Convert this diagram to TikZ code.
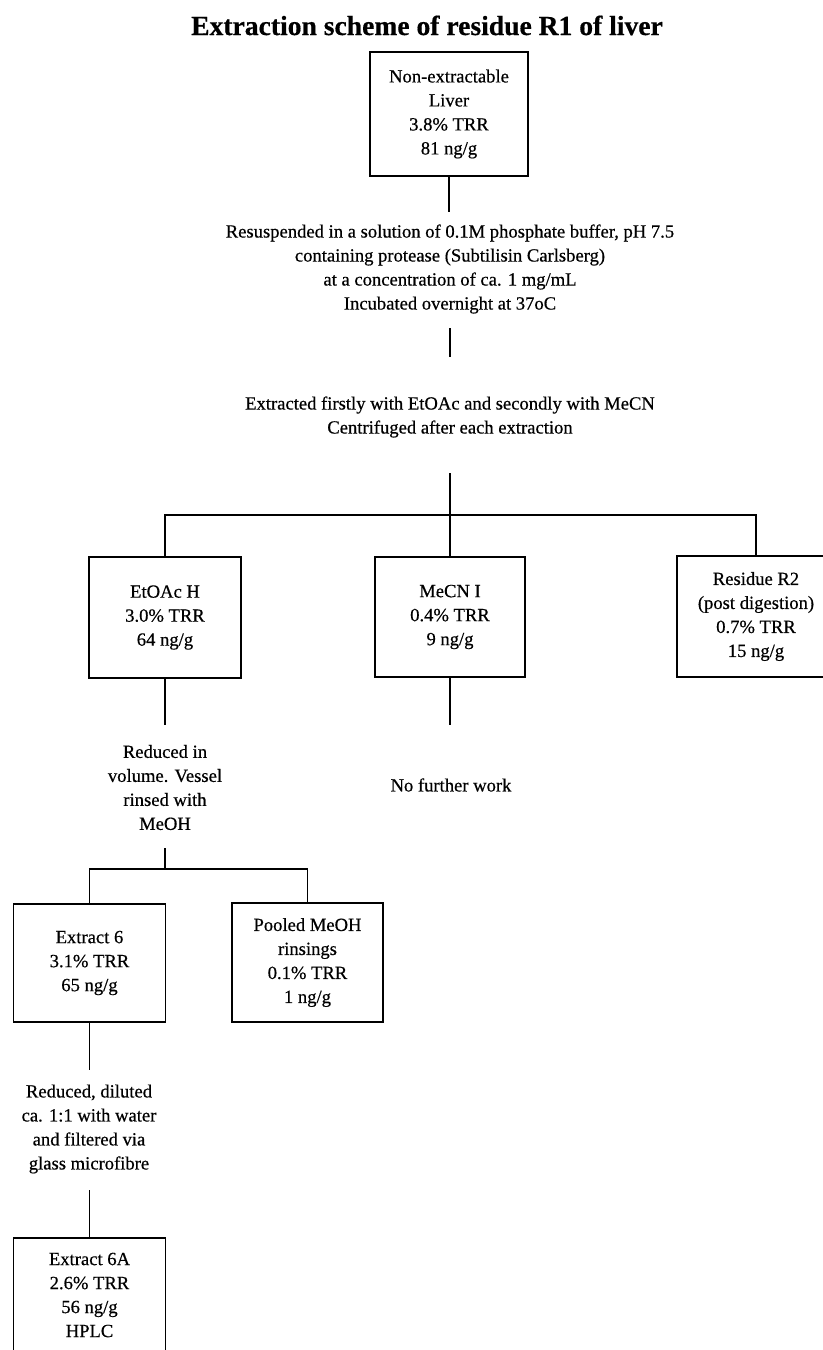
\documentclass[tikz,border=0pt]{standalone}
\usepackage{fontspec}
\setmainfont{Liberation Serif}[FakeBold=0.5]
\begin{document}
\begin{tikzpicture}[x=0.5pt,y=-0.5pt,
  every node/.style={font=\fontsize{9.3}{12}\selectfont, align=center, inner sep=0pt},
  box/.style={draw, line width=0.9pt},
  link/.style={line width=0.9pt},
  note/.style={},
  heading/.style={font=\bfseries\fontsize{13.8}{16}\selectfont}]
\useasboundingbox (0,0) rectangle (823,1350);
\clip (0,0) rectangle (823,1350);

% title
\node[heading, anchor=base] (title) at (427,35) {Extraction scheme of residue R1 of liver};

% boxes
\node[box, minimum width=79pt, minimum height=62pt] (liver) at (449,114)
  {Non-extractable\\Liver\\3.8\% TRR\\81 ng/g};
\node[box, minimum width=76pt, minimum height=60.5pt] (etoac) at (165,617.5)
  {EtOAc H\\3.0\% TRR\\64 ng/g};
\node[box, minimum width=75pt, minimum height=60pt] (mecn) at (450,617)
  {MeCN I\\0.4\% TRR\\9 ng/g};
\node[box, minimum width=79pt, minimum height=60.5pt] (resid) at (756,616.5)
  {Residue R2\\(post digestion)\\0.7\% TRR\\15 ng/g};
\node[box, minimum width=76pt, minimum height=59pt] (ext6) at (89.5,963)
  {Extract 6\\3.1\% TRR\\65 ng/g};
\node[box, minimum width=75.5pt, minimum height=59.5pt] (pooled) at (307.5,962.5)
  {Pooled MeOH\\rinsings\\0.1\% TRR\\1 ng/g};
\node[box, minimum width=76pt, minimum height=57pt] (ext6a) at (89.5,1295)
  {Extract 6A\\2.6\% TRR\\56 ng/g\\HPLC};

% process notes
\node[note] (resus) at (450,269)
  {Resuspended in a solution of 0.1M phosphate buffer, pH 7.5\\
   containing protease (Subtilisin Carlsberg)\\
   at a concentration of ca. 1 mg/mL\\
   Incubated overnight at 37oC};
\node[note] (extr) at (450,417)
  {Extracted firstly with EtOAc and secondly with MeCN\\
   Centrifuged after each extraction};
\node[note] (red1) at (165,787.5)
  {Reduced in\\volume. Vessel\\rinsed with\\MeOH};
\node[note] (nofw) at (451,785) {No further work};
\node[note] (red2) at (89,1129)
  {Reduced, diluted\\ca. 1:1 with water\\and filtered via\\glass microfibre};

% connector end points
\coordinate (c1) at (449,212);
\coordinate (s1) at (450,328);
\coordinate (s2) at (450,357);
\coordinate (c3) at (450,473);
\coordinate (hbar) at (450,515);
\coordinate (c4) at (165,725);
\coordinate (c5) at (450,725);
\coordinate (c6) at (165,848);
\coordinate (hbar2) at (165,869);
\coordinate (c7) at (89.5,1070);
\coordinate (c8) at (89.5,1190);

% connectors
\draw[link] (liver.south) -- (c1);
\draw[link] (s1) -- (s2);
\draw[link] (c3) -- (mecn.north);
\draw[link] (etoac.north) |- (hbar) -| (resid.north);
\draw[link] (etoac.south) -- (c4);
\draw[link] (mecn.south) -- (c5);
\draw[link] (c6) -- (hbar2);
\draw[link] (ext6.north) |- (hbar2) -| (pooled.north);
\draw[link] (ext6.south) -- (c7);
\draw[link] (c8) -- (ext6a.north);
\end{tikzpicture}
\end{document}
